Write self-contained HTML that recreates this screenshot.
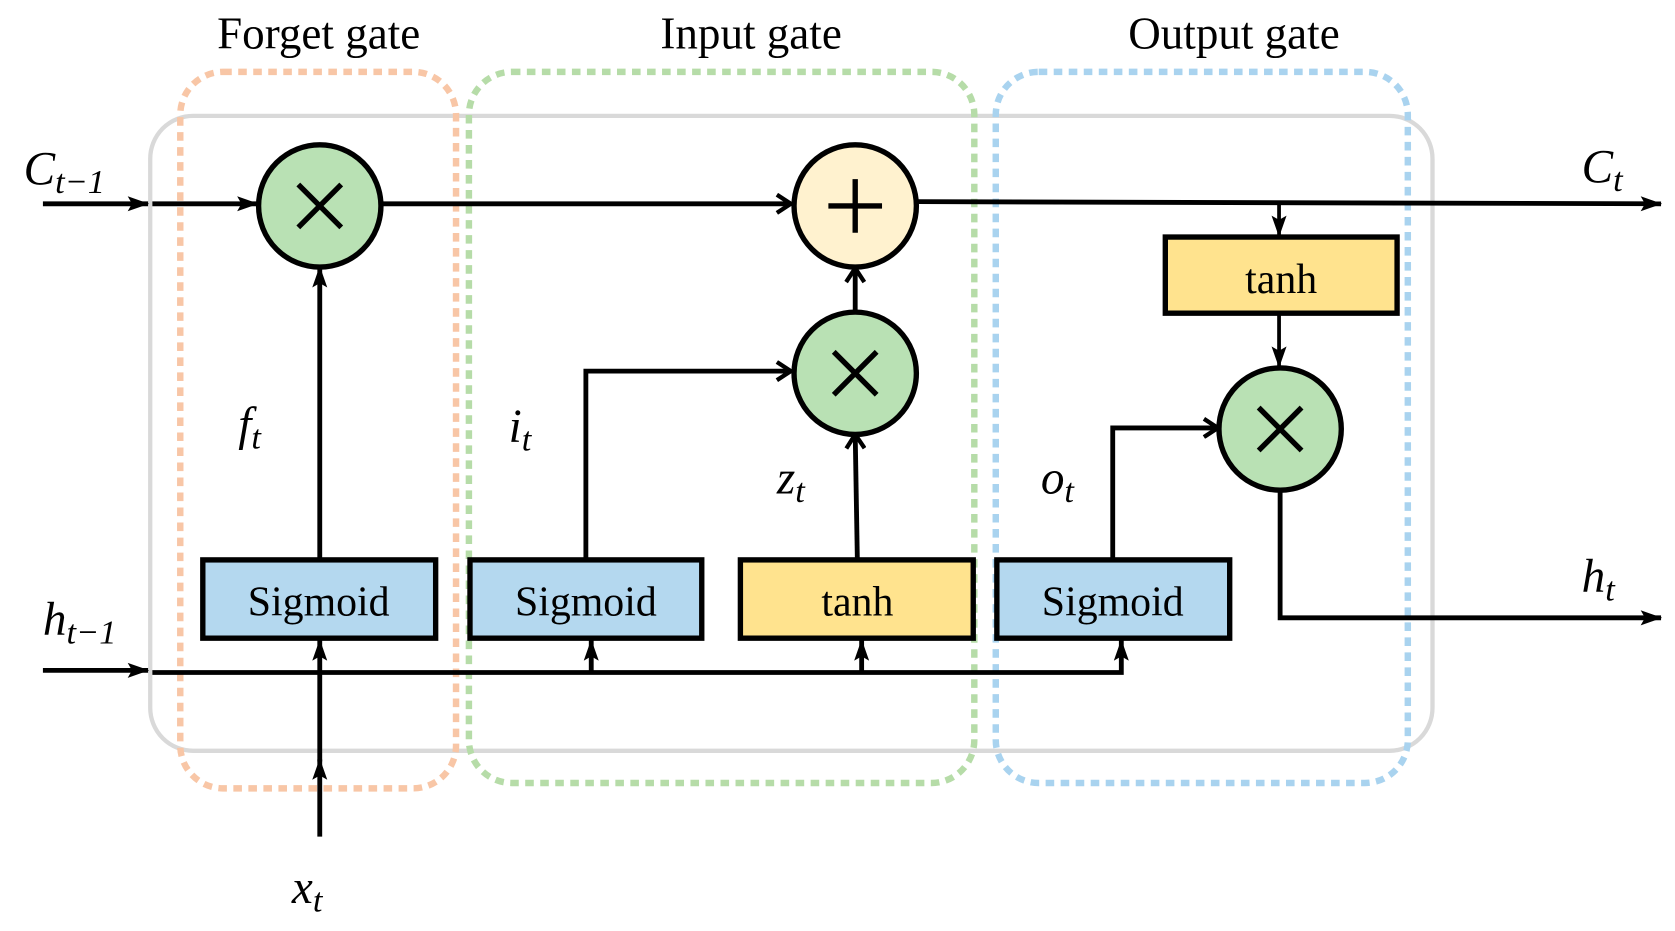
<!DOCTYPE html>
<html><head><meta charset="utf-8"><style>
html,body{margin:0;padding:0;background:#fff;}
svg{display:block;}
text{font-family:"Liberation Serif",serif;}
.m{font-style:italic;}
</style></head><body>
<svg width="1675" height="931" viewBox="0 0 1561 868" preserveAspectRatio="none" xmlns="http://www.w3.org/2000/svg">
<defs>
<marker id="a" markerWidth="20" markerHeight="16" refX="19" refY="8" orient="auto" markerUnits="userSpaceOnUse" viewBox="0 0 20 16"><path d="M0,1 L20,8 L0,15 L4,8 Z" fill="#000"/></marker>
<marker id="b" markerWidth="18" markerHeight="20" refX="16" refY="10" orient="auto" markerUnits="userSpaceOnUse" viewBox="0 0 18 20"><path d="M3,1.5 L16,10 L3,18.5" fill="none" stroke="#000" stroke-width="4"/></marker>
</defs>
<rect x="140" y="108" width="1195" height="592" rx="40" fill="none" stroke="#d9d9d9" stroke-width="4"/>
<rect x="168" y="67" width="257" height="668" rx="40" fill="none" stroke="#f8c6a6" stroke-width="6" stroke-dasharray="8 6"/>
<rect x="437" y="67" width="471" height="663" rx="40" fill="none" stroke="#b6dca8" stroke-width="6" stroke-dasharray="8 6"/>
<rect x="928" y="67" width="384" height="663" rx="40" fill="none" stroke="#a9d3ef" stroke-width="6" stroke-dasharray="8 6"/>
<text x="297" y="45" font-size="42" text-anchor="middle">Forget gate</text>
<text x="700" y="45" font-size="42" text-anchor="middle">Input gate</text>
<text x="1150" y="45" font-size="42" text-anchor="middle">Output gate</text>
<g stroke="#000" stroke-width="4.5" fill="none">
<line x1="40" y1="190" x2="138" y2="190" marker-end="url(#a)"/>
<line x1="142" y1="190" x2="240" y2="190" marker-end="url(#a)"/>
<line x1="356" y1="190" x2="737" y2="190" marker-end="url(#b)"/>
<line x1="855" y1="188" x2="1548" y2="190" marker-end="url(#a)"/>
<line x1="1192" y1="189" x2="1192" y2="220" marker-end="url(#a)" stroke-width="3.5"/>
<line x1="1192" y1="292" x2="1192" y2="342" marker-end="url(#a)" stroke-width="3.5"/>
<line x1="40" y1="625" x2="138" y2="625" marker-end="url(#a)"/>
<polyline points="142,627 1045,627 1045,597" marker-end="url(#a)"/>
<line x1="551" y1="627" x2="551" y2="597" marker-end="url(#a)"/>
<line x1="803" y1="627" x2="803" y2="597" marker-end="url(#a)"/>
<line x1="298" y1="780" x2="298" y2="708" marker-end="url(#a)"/>
<line x1="298" y1="710" x2="298" y2="597" marker-end="url(#a)"/>
<line x1="298" y1="522" x2="298" y2="249" marker-end="url(#a)"/>
<polyline points="546,522 546,346 737,346" marker-end="url(#b)"/>
<line x1="799" y1="522" x2="797" y2="405" marker-end="url(#b)"/>
<line x1="797" y1="292" x2="797" y2="250" marker-end="url(#b)"/>
<polyline points="1037,522 1037,399 1135,399" marker-end="url(#b)"/>
<polyline points="1193,457 1193,576 1548,576" marker-end="url(#a)"/>
</g>
<g stroke="#000" stroke-width="5">
<circle cx="298" cy="192" r="57" fill="#b9e1b4"/>
<circle cx="797" cy="192" r="57" fill="#fff2cf"/>
<circle cx="797" cy="348" r="57" fill="#b9e1b4"/>
<circle cx="1193" cy="400" r="57" fill="#b9e1b4"/>
<path d="M278,172 L318,212 M318,172 L278,212" fill="none"/>
<path d="M777,328 L817,368 M817,328 L777,368" fill="none"/>
<path d="M1173,380 L1213,420 M1213,380 L1173,420" fill="none"/>
<path d="M797,167 L797,217 M772,192 L822,192" fill="none"/>
<rect x="189" y="522" width="217" height="73" fill="#b4d8ef"/>
<rect x="438" y="522" width="216" height="73" fill="#b4d8ef"/>
<rect x="690" y="522" width="217" height="73" fill="#ffe38e"/>
<rect x="929" y="522" width="217" height="73" fill="#b4d8ef"/>
<rect x="1086" y="221" width="216" height="71" fill="#ffe38e"/>
</g>
<g font-size="39" text-anchor="middle">
<text x="297" y="574">Sigmoid</text>
<text x="546" y="574">Sigmoid</text>
<text x="799" y="574">tanh</text>
<text x="1037" y="574">Sigmoid</text>
<text x="1194" y="273">tanh</text>
</g>
<g font-size="44">
<text x="22" y="172" class="m">C<tspan font-size="32" dy="8">t−1</tspan></text>
<text x="40" y="592" class="m">h<tspan font-size="32" dy="8">t−1</tspan></text>
<text x="1474" y="170" class="m">C<tspan font-size="32" dy="8">t</tspan></text>
<text x="1474" y="552" class="m">h<tspan font-size="32" dy="8">t</tspan></text>
<text x="222" y="410" class="m">f<tspan font-size="32" dy="8">t</tspan></text>
<text x="474" y="412" class="m">i<tspan font-size="32" dy="8">t</tspan></text>
<text x="724" y="460" class="m">z<tspan font-size="32" dy="8">t</tspan></text>
<text x="970" y="460" class="m">o<tspan font-size="32" dy="8">t</tspan></text>
<text x="272" y="842" class="m">x<tspan font-size="32" dy="8">t</tspan></text>
</g>
</svg>
</body></html>
